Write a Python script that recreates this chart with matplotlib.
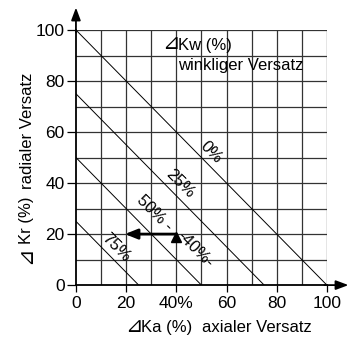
import matplotlib
matplotlib.use("Agg")
import matplotlib.pyplot as plt
import numpy as np

plt.rcParams['font.family'] = ['Liberation Sans', 'DejaVu Sans']

# Diagonalen: Ka + Kr = Summe, Beschriftung = winkliger Versatz
line_sums = [100, 75, 50, 25]
line_labels = ["0%", "25%", "50% -", "75%"]
label_pos = [(53.8, 52.2), (41.4, 39.6), (31.5, 28.2), (15.9, 14.5)]

extra_label = "-40%-"
extra_pos = (47.5, 14.1)

x_ticks = [0, 20, 40, 60, 80, 100]
x_ticklabels = ["0", "20", "40%", "60", "80", "100"]
y_ticks = [0, 20, 40, 60, 80, 100]

# Beispielpfeil
arrow_start = (40, 20)
arrow_end = (19.5, 20)
up_marker = (40, 18.7)

fig = plt.figure(figsize=(3.5, 3.37), dpi=100)
ax = fig.add_axes([0.217, 0.154, 0.717, 0.757])
ax.set_xlim(0, 100)
ax.set_ylim(0, 100)

# Gitter
for v in range(10, 101, 10):
    ax.axvline(v, color="#333333", lw=0.9, zorder=1)
    ax.axhline(v, color="#333333", lw=0.9, zorder=1)

for s in line_sums:
    ax.plot([0, s], [s, 0], color="black", lw=0.7, zorder=2)

for lab, (x, y) in zip(line_labels, label_pos):
    ax.text(x, y, lab, rotation=-45, ha="center", va="center", fontsize=12,
            rotation_mode="anchor", zorder=3)
ax.text(extra_pos[0], extra_pos[1], extra_label, rotation=-45, ha="center",
        va="center", fontsize=12, rotation_mode="anchor", zorder=3)

ax.annotate("", xy=arrow_end, xytext=arrow_start,
            arrowprops=dict(arrowstyle="-|>,head_length=0.75,head_width=0.3",
                            color="black", lw=2, shrinkA=0, shrinkB=0), zorder=4)
ax.plot([up_marker[0]], [up_marker[1]], marker="^", color="black", ms=7.5, zorder=4)

ax.text(34.3, 94.6, "\u22bf", fontsize=15, va="center", ha="left")
ax.text(40.6, 94.1, "Kw (%)", fontsize=12, va="center", ha="left")
ax.text(40.6, 85.9, "winkliger Versatz", fontsize=12, va="center", ha="left")

# Achsen
for side in ["top", "right"]:
    ax.spines[side].set_visible(False)
ax.spines["left"].set_linewidth(1.3)
ax.spines["bottom"].set_linewidth(1.3)
ax.set_xticks(x_ticks)
ax.set_xticklabels(x_ticklabels)
ax.set_yticks(y_ticks)
ax.tick_params(axis="y", direction="out", length=6.5, width=0.9, labelsize=12.5, pad=1.5)
ax.tick_params(axis="x", direction="out", length=5, width=0.9, labelsize=12.5, pad=3)

ax.annotate("", xy=(1.086, 0), xytext=(0.99, 0), xycoords="axes fraction",
            arrowprops=dict(arrowstyle="-|>,head_length=0.75,head_width=0.28",
                            color="black", lw=1.3, shrinkA=0, shrinkB=0))
ax.annotate("", xy=(0, 1.088), xytext=(0, 0.99), xycoords="axes fraction",
            arrowprops=dict(arrowstyle="-|>,head_length=0.75,head_width=0.28",
                            color="black", lw=1.3, shrinkA=0, shrinkB=0))

fig.text(0.357, 0.031, "\u22bf", fontsize=15, ha="left", va="center")
fig.text(0.403, 0.027, "Ka (%)", fontsize=12, ha="left", va="center")
fig.text(0.577, 0.027, "axialer Versatz", fontsize=12, ha="left", va="center")
fig.text(0.073, 0.242, "\u22bf", fontsize=15, rotation=90, ha="center", va="center")
fig.text(0.077, 0.345, "Kr (%)", fontsize=12, rotation=90, ha="center", va="center")
fig.text(0.08, 0.611, "radialer Versatz", fontsize=12, rotation=90, ha="center", va="center")

fig.savefig("out.png", dpi=100)
